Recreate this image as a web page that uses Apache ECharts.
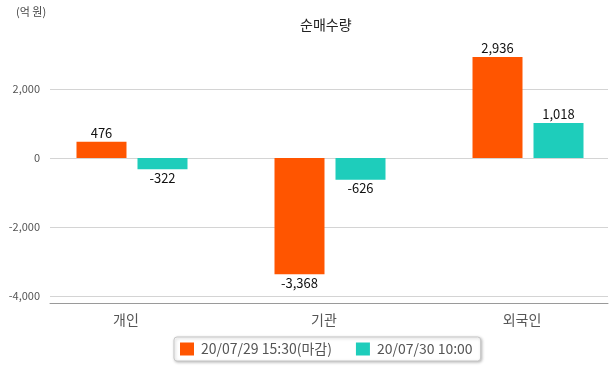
<!DOCTYPE html>
<html>
<head>
<meta charset="utf-8">
<script src="https://cdn.jsdelivr.net/npm/echarts@6/dist/echarts.min.js"></script>
<style>html,body{margin:0;padding:0;background:#fff;}#c{width:615px;height:368px;}</style>
</head>
<body>
<div id="c"></div>
<script>
const categories = ['개인', '기관', '외국인'];
const seriesNames = ['20/07/29 15:30(마감)', '20/07/30 10:00'];
const valuesClose = [476, -3368, 2936];
const valuesNow = [-322, -626, 1018];
const yTicks = [-4000, -2000, 0, 2000];
const unitLabel = '(억 원)';
const titleText = '순매수량';

const FONT = '"Noto Sans CJK KR", "Noto Sans", sans-serif';
const fmt = v => v.toLocaleString('en-US');
const toData = arr => arr.map((v, i) => ({
  value: [i, v],
  label: { position: v >= 0 ? 'top' : 'bottom' }
}));

const chart = echarts.init(document.getElementById('c'), null, { renderer: 'canvas' });
const yMin = yTicks[0], yMax = 3600;
const xMin = -0.4141, xMax = 2.404;
chart.setOption({
  animation: false,
  backgroundColor: '#fff',
  textStyle: { fontFamily: FONT },
  title: {
    text: titleText, left: 295, top: 13,
    textStyle: { fontFamily: FONT, fontSize: 14, fontWeight: 'normal', color: '#222' }
  },
  graphic: [{
    type: 'text', left: 16, top: 6,
    style: { text: unitLabel, font: '11px ' + FONT, fill: '#444' }
  }],
  legend: {
    left: 174, top: 337,
    padding: [5, 8, 5, 6],
    itemWidth: 14, itemHeight: 13, itemGap: 24,
    icon: 'rect',
    backgroundColor: '#fff',
    borderColor: '#c8c8c8', borderWidth: 1, borderRadius: 3,
    shadowColor: 'rgba(0,0,0,0.25)', shadowBlur: 3, shadowOffsetX: 1, shadowOffsetY: 1,
    textStyle: { fontFamily: FONT, fontSize: 14, color: '#555', padding: [0, 0, 0, 2] },
    data: seriesNames
  },
  grid: { left: 50, right: 7, top: 34, bottom: 72 },
  xAxis: {
    type: 'value', min: xMin, max: xMax,
    splitNumber: 3, minInterval: 1, maxInterval: 1,
    offset: 7,
    axisLine: { show: true, onZero: false, lineStyle: { color: '#9a9a9a', width: 1 } },
    axisTick: { show: false },
    splitLine: { show: false },
    axisLabel: {
      margin: 10, fontFamily: FONT, fontSize: 14, color: '#555', padding: [0, 12, 0, 0],
      showMinLabel: false, showMaxLabel: false,
      formatter: v => (Number.isInteger(v) && categories[v] !== undefined ? categories[v] : '')
    }
  },
  yAxis: {
    type: 'value', min: yMin, max: yMax, interval: 2000,
    axisLine: { show: false }, axisTick: { show: false },
    axisLabel: {
      margin: 10, fontFamily: FONT, fontSize: 11, color: '#555',
      showMaxLabel: false,
      formatter: v => (yTicks.indexOf(v) >= 0 ? fmt(v) : '')
    },
    splitLine: { show: true, lineStyle: { color: ['#d4d4d4', '#d4d4d4', '#d4d4d4', '#d4d4d4', 'rgba(0,0,0,0)'], width: 1 } }
  },
  series: [
    {
      name: seriesNames[0], type: 'bar',
      data: toData(valuesClose), barWidth: 50, barGap: '22%',
      itemStyle: { color: '#ff5500' },
      label: { show: true, distance: 2, fontFamily: FONT, fontSize: 13, color: '#111', formatter: p => fmt(p.value[1]) }
    },
    {
      name: seriesNames[1], type: 'bar',
      data: toData(valuesNow), barWidth: 50, barGap: '22%',
      itemStyle: { color: '#1ecdbb' },
      label: { show: true, distance: 2, fontFamily: FONT, fontSize: 13, color: '#111', formatter: p => fmt(p.value[1]) }
    }
  ]
});
</script>
</body>
</html>
